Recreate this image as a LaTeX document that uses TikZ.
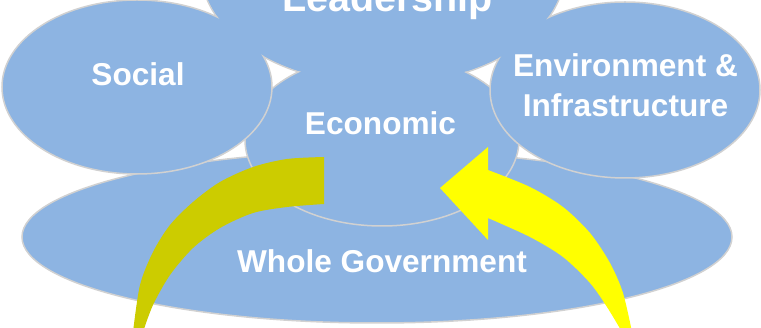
\documentclass[tikz,border=0pt]{standalone}
\usepackage{fontspec}
\setmainfont{Liberation Sans}
\usepackage{tikz}
\tikzset{blob/.style = {fill = mblue, draw = mgrey, line width = 1.5}}
\tikzset{lbl/.style = {text = white, inner sep = 0, anchor = base,
                       font = \fontsize{31.6}{40}\selectfont\bfseries}}
\definecolor{mblue}{rgb}{0.553, 0.706, 0.886}
\definecolor{mgrey}{rgb}{0.82, 0.82, 0.82}
\definecolor{molive}{rgb}{0.8, 0.8, 0}
\definecolor{myellow}{rgb}{1, 1, 0}

\begin{document}
\begin{tikzpicture}[x = 1pt, y = -1pt]
      \useasboundingbox (0, 0) rectangle (761, 328);
      \clip (0, 0) rectangle (761, 328);

      \draw [blob] (377, 237) ellipse [x radius = 355, y radius = 86];
      \draw [blob] (383, -30) ellipse [x radius = 182, y radius = 115];
      \draw [blob] (382, 140) ellipse [x radius = 137, y radius = 86];
      \draw [blob] (137, 87) ellipse [x radius = 135, y radius = 87];
      \draw [blob] (625, 90) ellipse [x radius = 135, y radius = 88];
      \fill [mblue] (383, -30) ellipse [x radius = 181, y radius = 114];

      \fill [molive] plot [smooth] coordinates {(133, 332) (140, 285) (153, 252) (170, 225) (193, 202)
                                                (220, 182) (253, 167) (287, 159) (324, 157)}
        -- plot [smooth] coordinates {(324, 204) (287, 207) (253, 213) (220, 228) (193, 248)
                                      (170, 275) (153, 305) (143, 332)}
        -- cycle;
      \fill [myellow] plot [smooth] coordinates {(632, 332) (623, 293) (610, 263) (590, 233) (563, 207)
                                                 (530, 187) (488, 170)}
        -- (488, 147) -- (440, 188) -- (488, 240)
        -- plot [smooth] coordinates {(488, 218) (530, 237) (563, 257) (590, 283) (607, 307) (622, 332)}
        -- cycle;

      \node [lbl, font = \fontsize{39.5}{44}\selectfont\bfseries] (lead) at (387.5, 12) {Leadership};
      \node [lbl] (social) at (138, 86) {Social};
      \node [lbl] (econ) at (380.5, 135) {Economic};
      \node [lbl, align = center] (env) at (625.5, 117) {Environment \&\\Infrastructure};
      \node [lbl] (whole) at (382, 273) {Whole Government};
    \end{tikzpicture}
\end{document}
